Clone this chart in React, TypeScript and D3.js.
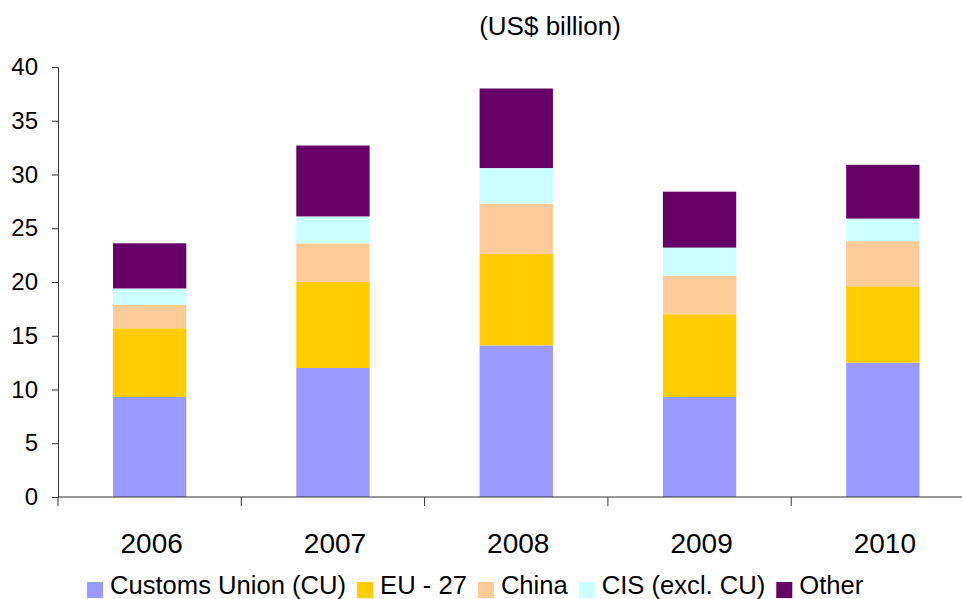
import { axisBottom, axisLeft, scaleBand, scaleLinear, select, stack } from "d3";
import { useEffect, useRef } from "react";

const years = ["2006", "2007", "2008", "2009", "2010"];
const seriesNames = ["Customs Union (CU)", "EU - 27", "China", "CIS (excl. CU)", "Other"];
const seriesColors = ["#9999FF", "#FFCC00", "#FFCC99", "#CCFFFF", "#660066"];

const customsUnion = [9.3, 12.0, 14.1, 9.3, 12.5];
const eu27 = [6.4, 8.0, 8.5, 7.7, 7.1];
const china = [2.2, 3.6, 4.7, 3.6, 4.2];
const cis = [1.5, 2.5, 3.3, 2.6, 2.1];
const other = [4.2, 6.6, 7.4, 5.2, 5.0];

const yTicks = [0, 5, 10, 15, 20, 25, 30, 35, 40];

const FONT = "'Liberation Sans', Arial, sans-serif";

export default function App() {
  const ref = useRef<SVGSVGElement>(null);
  const width = 962;
  const height = 599;
  const left = 58;
  const top = 67;
  const bottom = 497;

  useEffect(() => {
    document.body.style.margin = "0";
    const svg = select(ref.current);
    svg.selectAll("*").remove();

    const rows = years.map((year, i) => ({
      year,
      s0: customsUnion[i],
      s1: eu27[i],
      s2: china[i],
      s3: cis[i],
      s4: other[i],
    }));
    const keys = ["s0", "s1", "s2", "s3", "s4"];
    const layers = stack<any>().keys(keys)(rows);

    const x = scaleBand()
      .domain(years)
      .range([left, left + 5 * 183.3])
      .paddingInner(0.6)
      .paddingOuter(0.3);
    const y = scaleLinear().domain([0, 40]).range([bottom, top]);

    // bars
    layers.forEach((layer, li) => {
      svg
        .append("g")
        .attr("fill", seriesColors[li])
        .selectAll("rect")
        .data(layer)
        .join("rect")
        .attr("x", (d: any) => x(d.data.year)!)
        .attr("width", x.bandwidth())
        .attr("y", (d) => y(d[1]))
        .attr("height", (d) => y(d[0]) - y(d[1]));
    });

    // y axis
    const yAxis = svg
      .append("g")
      .attr("transform", `translate(${left},0)`)
      .call(axisLeft(y).tickValues(yTicks).tickSize(6).tickPadding(14));
    yAxis.select(".domain").attr("stroke", "#333");
    yAxis.selectAll(".tick line").attr("stroke", "#333");
    yAxis
      .selectAll("text")
      .attr("font-family", FONT)
      .attr("font-size", 24)
      .attr("fill", "#000");

    // x axis: ticks at band boundaries
    const xAxisG = svg.append("g").attr("transform", `translate(0,${bottom})`);
    xAxisG
      .append("line")
      .attr("x1", left)
      .attr("x2", width)
      .attr("stroke", "#333");
    const step = x.step();
    years.forEach((yr) => {
      const bx = x(yr)! - (step - x.bandwidth()) / 2;
      xAxisG
        .append("line")
        .attr("x1", bx)
        .attr("x2", bx)
        .attr("y1", 0)
        .attr("y2", 9)
        .attr("stroke", "#333");
    });
    const xAxis = svg
      .append("g")
      .attr("transform", `translate(0,${bottom})`)
      .call(axisBottom(x).tickSize(0).tickPadding(36));
    xAxis.select(".domain").remove();
    xAxis
      .selectAll("text")
      .attr("font-family", FONT)
      .attr("font-size", 28)
      .attr("fill", "#000")
      .attr("dx", 2);

    // title
    svg
      .append("text")
      .attr("x", 550)
      .attr("y", 35)
      .attr("text-anchor", "middle")
      .attr("font-family", FONT)
      .attr("font-size", 26)
      .text("(US$ billion)");

    // legend
    const legend = svg.append("g");
    let lx = 87;
    seriesNames.forEach((name, i) => {
      legend
        .append("rect")
        .attr("x", lx)
        .attr("y", 582)
        .attr("width", 16)
        .attr("height", 16)
        .attr("fill", seriesColors[i]);
      const t = legend
        .append("text")
        .attr("x", lx + 23)
        .attr("y", 594)
        .attr("font-family", FONT)
        .attr("font-size", 25.6)
        .text(name);
      const w = (t.node() as SVGTextElement).getComputedTextLength();
      lx = lx + 23 + w + 11;
    });
  }, []);

  return <svg ref={ref} width={width} height={height} style={{ display: "block", background: "#fff" }} />;
}
